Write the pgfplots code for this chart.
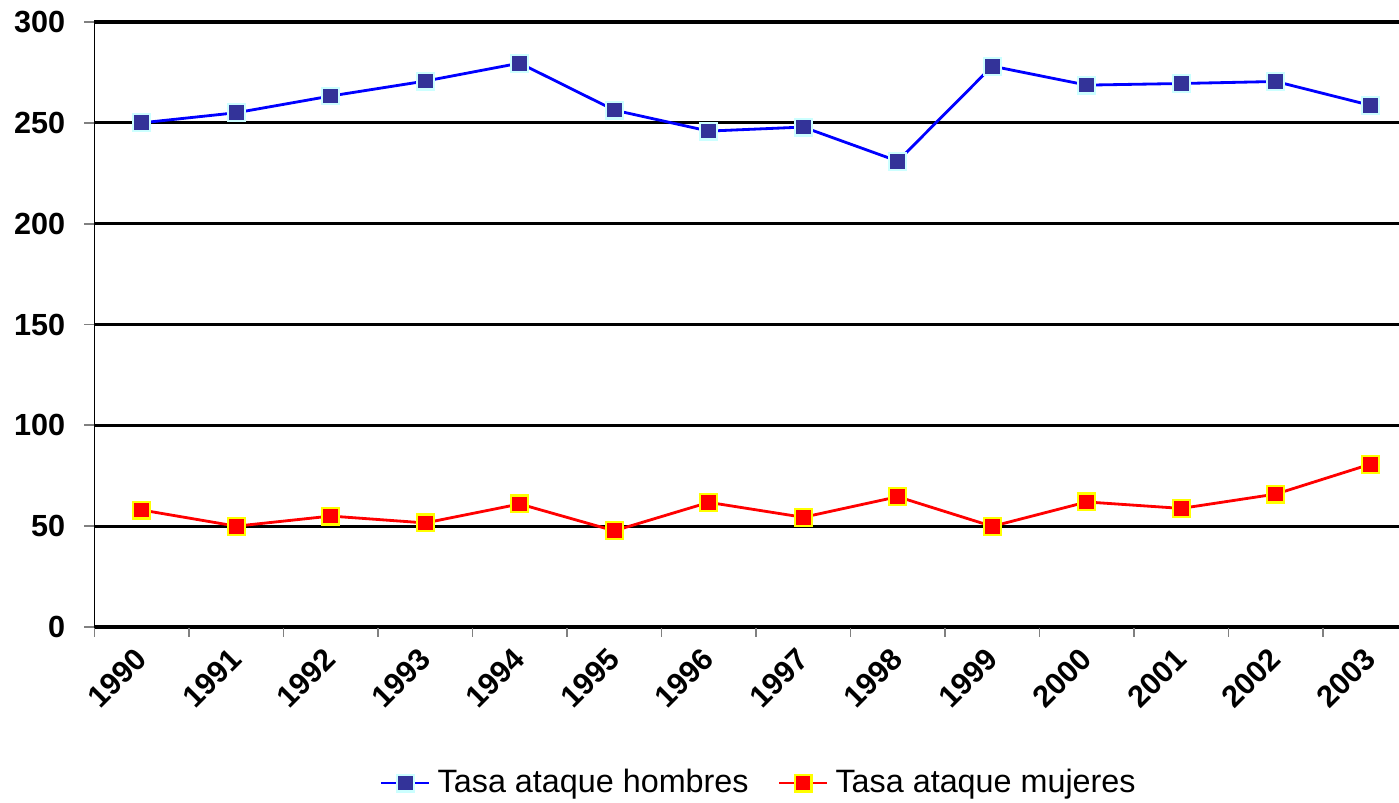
\documentclass[border=0pt]{standalone}
\usepackage{pgfplots}
\pgfplotsset{compat=1.18}
\usepackage{fontspec}
\setmainfont{Liberation Sans}
\definecolor{mblue}{HTML}{333399}
\definecolor{mcyan}{HTML}{CCFFFF}
\definecolor{lblue}{HTML}{0000FF}
\definecolor{lred}{HTML}{FF0000}
\definecolor{myel}{HTML}{FFFF00}
\begin{document}
\begin{tikzpicture}
\path[use as bounding box] (0,0) rectangle (13.99,8.03);
\clip (0,0) rectangle (13.99,8.03);
\begin{axis}[
  at={(0.945cm,1.76cm)}, anchor=south west,
  scale only axis, width=13.23cm, height=6.05cm,
  xmin=-0.5, xmax=13.5, ymin=0, ymax=300,
  axis x line*=bottom, axis y line*=left,
  axis line style={black, line width=0.5pt},
  xtick={0,...,13},
  xticklabels={1990,1991,1992,1993,1994,1995,1996,1997,1998,1999,2000,2001,2002,2003},
  minor xtick={-0.5,0.5,...,13.5},
  ytick={0,50,...,300},
  ymajorgrids,
  major grid style={black, line width=0.9pt},
  tick align=outside,
  major x tick style={draw=none},
  minor x tick style={gray, line width=0.5pt},
  major y tick style={gray, line width=0.5pt},
  major tick length=0.1cm, minor tick length=0.1cm,
  /pgf/number format/assume math mode=true,
  /pgf/number format/1000 sep={},
  ticklabel style={font=\fontsize{8.7}{10}\selectfont\bfseries},
  yticklabel style={anchor=east, xshift=-0.07cm},
  xticklabel style={rotate=45, anchor=east, yshift=-0.12cm},
  legend style={at={(0.504,-0.258)}, anchor=center, draw=none,
    legend columns=2, font=\fontsize{9.2}{11}\selectfont,
    /tikz/every even column/.append style={column sep=0.22cm}},
  legend image code/.code={
    \draw[#1, mark=none] (0cm,0cm) -- (0.48cm,0cm);
    \draw[#1, only marks] plot coordinates {(0.24cm,0cm)};
  },
]
\addplot[lblue, line width=0.8pt, mark=square*, mark size=2.4pt,
  mark options={fill=mblue, draw=mcyan, line width=0.6pt}]
  coordinates {
  (0,250) (1,255) (2,263.3) (3,270.7) (4,279.6) (5,256.3) (6,245.9)
  (7,247.9) (8,231) (9,278.1) (10,268.7) (11,269.5) (12,270.5) (13,258.7)
  };
\addplot[lred, line width=0.8pt, mark=square*, mark size=2.4pt,
  mark options={fill=lred, draw=myel, line width=0.6pt}]
  coordinates {
  (0,58) (1,50) (2,55) (3,51.6) (4,61) (5,47.7) (6,61.8)
  (7,54.4) (8,64.6) (9,49.9) (10,62) (11,58.8) (12,65.9) (13,80.7)
  };
\legend{Tasa ataque hombres, Tasa ataque mujeres}
\end{axis}
\end{tikzpicture}
\end{document}
